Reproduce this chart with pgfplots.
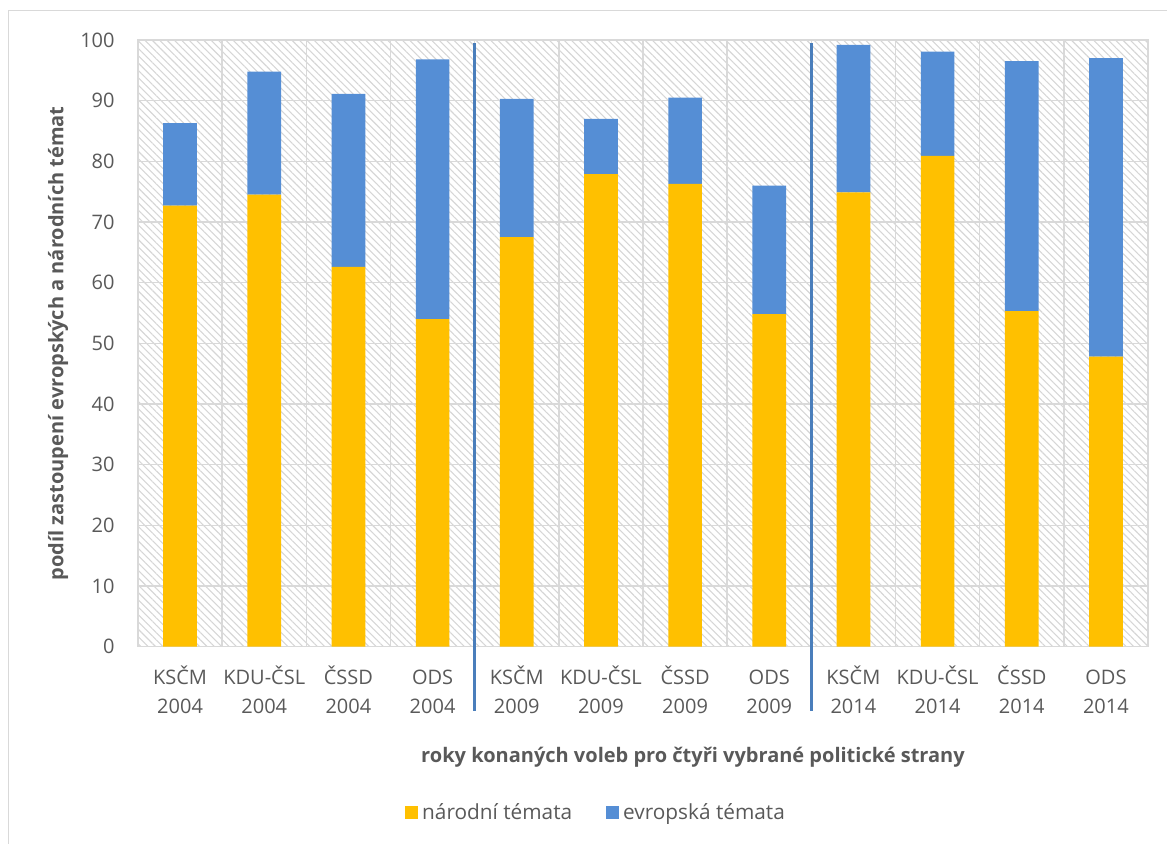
\documentclass[border=0pt]{standalone}
\usepackage{fontspec}
\setmainfont{Open Sans}
\usepackage{pgfplots}
\pgfplotsset{compat=1.18}
\usetikzlibrary{patterns.meta}
\definecolor{yel}{HTML}{FFC000}
\definecolor{blu}{HTML}{558ED5}
\definecolor{sepc}{HTML}{4A7EBB}
\definecolor{grd}{HTML}{D9D9D9}
\definecolor{hat}{HTML}{D6D6D6}
\definecolor{txt}{HTML}{595959}
\begin{document}
\begin{tikzpicture}[font=\fontsize{10pt}{12pt}\selectfont]
\useasboundingbox (0,0) rectangle (583.5pt,422pt);
\draw[grd, line width=0.6pt] (4.2pt,0) -- (4.2pt,416.7pt) -- (583.5pt,416.7pt);
\begin{axis}[
  at={(69pt,98.65pt)}, anchor=south west,
  width=505pt, height=303.35pt, scale only axis,
  ybar stacked, bar width=0.4,
  xmin=-0.5, xmax=11.5, ymin=0, ymax=100,
  xtick={0,1,...,11},
  xticklabels={{KSČM\\2004},{KDU-ČSL\\2004},{ČSSD\\2004},{ODS\\2004},
               {KSČM\\2009},{KDU-ČSL\\2009},{ČSSD\\2009},{ODS\\2009},
               {KSČM\\2014},{KDU-ČSL\\2014},{ČSSD\\2014},{ODS\\2014}},
  ytick={0,10,...,100},
  minor xtick={-0.5,0.5,...,11.5},
  xminorgrids, ymajorgrids, xmajorgrids=false,
  minor grid style={grd, line width=0.75pt},
  major grid style={grd, line width=0.75pt},
  axis line style={grd, line width=0.75pt},
  major tick length=0pt, minor tick length=0pt,
  tick style={draw=none},
  /pgf/number format/assume math mode=true,
  axis background/.style={pattern={Lines[angle=-45,distance=2.6pt,line width=0.55pt]}, pattern color=hat},
  yticklabel style={anchor=east, inner sep=0pt, xshift=-11.5pt, text=txt, font=\fontsize{10pt}{12pt}\selectfont},
  xticklabel style={anchor=base, inner sep=0pt, yshift=-33.3pt, align=center, text=txt, font=\fontsize{10pt}{14.5pt}\selectfont},
  xlabel={roky konaných voleb pro čtyři vybrané politické strany},
  ylabel={podíl zastoupení evropských a národních témat},
  xlabel style={at={(axis description cs:0.5495,-0.1818)}, anchor=center, text=txt, font=\fontsize{10pt}{12pt}\selectfont\bfseries},
  ylabel style={at={(axis description cs:-0.0792,0.5)}, anchor=center, rotate=0, text=txt, font=\fontsize{10pt}{12pt}\selectfont\bfseries},
  legend columns=2,
  legend style={draw=none, fill=none, at={(axis description cs:0.4545,-0.274)}, anchor=center,
    font=\fontsize{10.4pt}{12pt}\selectfont, text=txt, inner sep=0pt,
    /tikz/every even column/.append style={column sep=15pt}, cells={anchor=west}},
  legend image code/.code={\fill[#1] (0pt,-3.25pt) rectangle (6.5pt,3.25pt);},
  clip=false,
]
\addplot[fill=yel, draw=none] coordinates {
  (0,72.7) (1,74.5) (2,62.6) (3,54.0) (4,67.5) (5,77.9)
  (6,76.3) (7,54.8) (8,74.9) (9,80.9) (10,55.3) (11,47.8)};
\addlegendentry{národní témata}
\addplot[fill=blu, draw=none] coordinates {
  (0,13.6) (1,20.3) (2,28.5) (3,42.8) (4,22.8) (5,9.1)
  (6,14.2) (7,21.2) (8,24.3) (9,17.2) (10,41.2) (11,49.2)};
\addlegendentry{evropská témata}
\draw[sepc, line width=1.5pt] (axis cs:3.5,99.5) -- (axis cs:3.5,-10.6);
\draw[sepc, line width=1.5pt] (axis cs:7.5,99.5) -- (axis cs:7.5,-10.6);
\end{axis}
\end{tikzpicture}
\end{document}
